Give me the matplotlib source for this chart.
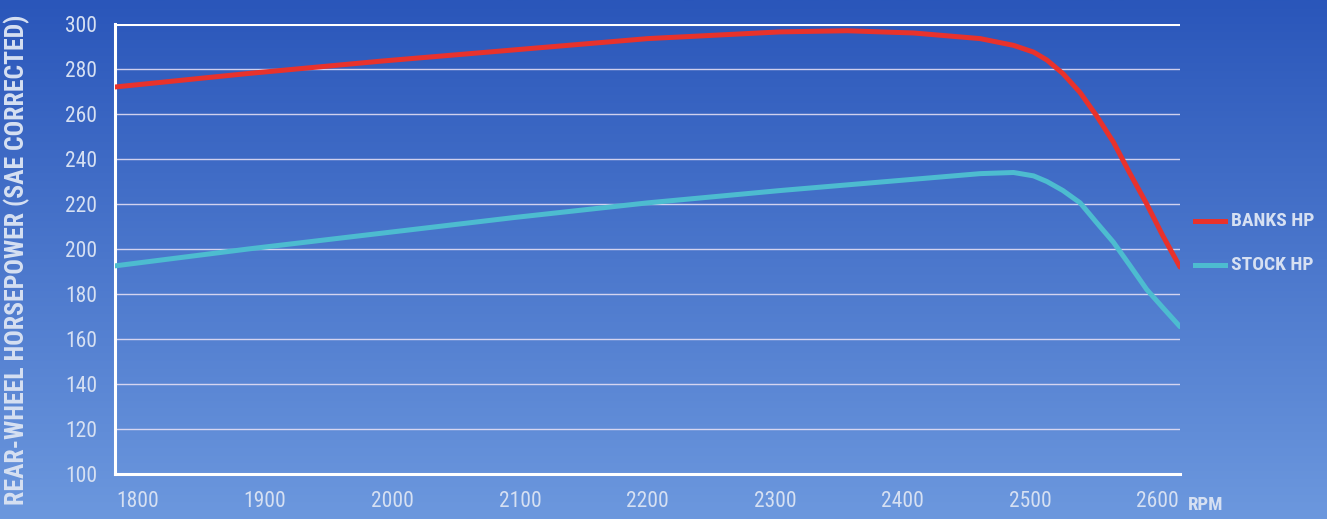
import numpy as np
import matplotlib.pyplot as plt
from matplotlib import font_manager

# dyno readings
rpm = [1800, 1900, 2000, 2100, 2200, 2300, 2350, 2400, 2450, 2475, 2490, 2500, 2512, 2525,
       2537, 2550, 2562, 2575, 2587, 2600]
banks_hp = [272, 278, 283.5, 288.5, 293.5, 296.5, 297, 296, 293.5, 290.5, 287.5, 284, 278, 269.5,
            259.5, 247.5, 234, 220, 206, 192]
stock_hp = [192.5, 200, 207, 214, 220.5, 226, 228.5, 231, 233.5, 234, 232.5, 230, 226, 220.5,
            212, 203, 193, 182, 174, 165.5]

y_ticks = list(range(100, 301, 20))
x_labels = ['1800', '1900', '2000', '2100', '2200', '2300', '2400', '2500', '2600']

# look for a narrow face
names = {f.name for f in font_manager.fontManager.ttflist}
narrow = [n for n in ['Liberation Sans Narrow', 'Roboto Condensed', 'Open Sans Condensed',
                      'DejaVu Sans Condensed'] if n in names]
FONT = narrow[:1] + ['DejaVu Sans']
STRETCH = 'condensed'
TXT = '#d6e0f2'
RED = '#e8322c'
CYAN = '#4dbcd0'

fig = plt.figure(figsize=(13.27, 5.19), dpi=100)

# gradient background
bg = fig.add_axes([0, 0, 1, 1], zorder=-1)
top = np.array([42, 86, 186]) / 255
bottom = np.array([108, 152, 222]) / 255
t = np.linspace(0, 1, 256)[:, None]
grad = top[None, :] * (1 - t) + bottom[None, :] * t
bg.imshow(grad[:, None, :], aspect='auto', extent=[0, 1, 0, 1])
bg.axis('off')

ax = fig.add_axes([115 / 1327, 45 / 519, 1065 / 1327, 450 / 519])
ax.patch.set_alpha(0)
ax.set_xlim(1800, 2600)
ax.set_ylim(100, 300)

for v in y_ticks[1:-1]:
    ax.axhline(v, color='#ece4f6', lw=1.0, alpha=0.85, zorder=1)
ax.axhline(300, color='white', lw=2.2, zorder=1)

ax.plot(rpm, stock_hp, color=CYAN, lw=3.6, solid_capstyle='round', solid_joinstyle='round', zorder=3)
ax.plot(rpm, banks_hp, color=RED, lw=3.6, solid_capstyle='round', solid_joinstyle='round', zorder=4)

for s in ['top', 'right']:
    ax.spines[s].set_visible(False)
for s in ['left', 'bottom']:
    ax.spines[s].set_color('white')
    ax.spines[s].set_linewidth(2.2)

ax.set_yticks(y_ticks)
ax.set_yticklabels([str(v) for v in y_ticks], fontsize=15.5, color=TXT, family=FONT,
                   fontstretch=STRETCH)
# printed labels sit slightly inside the plotted range
ax.set_xticks(np.linspace(1817, 2583, len(x_labels)))
ax.set_xticklabels(x_labels, fontsize=15.5, color=TXT, family=FONT, fontstretch=STRETCH)
ax.tick_params(length=0)
ax.tick_params(axis='x', pad=12)
ax.tick_params(axis='y', pad=13)

fig.text(17 / 1327, 0.5, 'REAR-WHEEL HORSEPOWER (SAE CORRECTED)', rotation=90,
         ha='center', va='center', fontsize=18.5, fontweight='bold', color=TXT, family=FONT,
         fontstretch=STRETCH)
fig.text(1188 / 1327, 1 - 505 / 519, 'RPM', ha='left', va='center', fontsize=13.5,
         fontweight='bold', color=TXT, family=FONT, fontstretch=STRETCH)

# legend
for label, col, yy in [('BANKS HP', RED, 221), ('STOCK HP', CYAN, 265)]:
    fig.add_artist(plt.Line2D([1195 / 1327, 1225 / 1327], [1 - yy / 519] * 2,
                              color=col, lw=3.6, transform=fig.transFigure))
    fig.text(1231 / 1327, 1 - yy / 519, label, ha='left', va='center', fontsize=14,
             fontweight='bold', color=TXT, family=FONT, fontstretch=STRETCH)

fig.savefig('out.png', dpi=100)
